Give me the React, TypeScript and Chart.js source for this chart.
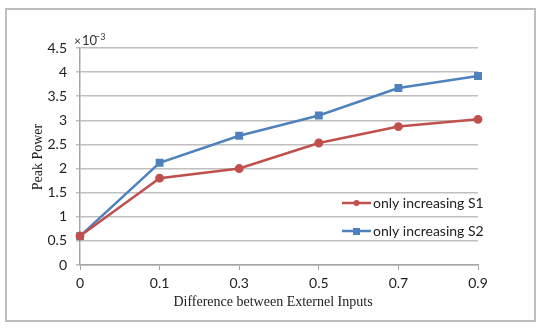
import React, { useEffect, useRef } from "react";
import { Chart, registerables } from "chart.js";

Chart.register(...registerables);

const categories = ["0", "0.1", "0.3", "0.5", "0.7", "0.9"];
const seriesS1 = [0.6, 1.8, 2.0, 2.53, 2.87, 3.02];
const seriesS2 = [0.6, 2.12, 2.68, 3.1, 3.67, 3.92];
const seriesNames = ["only increasing S1", "only increasing S2"];
const colors = ["#C0504D", "#4F81BD"];

const overlayPlugin = {
  id: "overlay",
  beforeDraw(chart: any) {
    const ctx = chart.ctx;
    ctx.save();
    ctx.fillStyle = "#ffffff";
    ctx.fillRect(0, 0, chart.width, chart.height);
    ctx.strokeStyle = "#BEBEBE";
    ctx.lineWidth = 2;
    ctx.strokeRect(6, 9, 529, 312);
    ctx.restore();
  },
  afterDraw(chart: any) {
    const ctx = chart.ctx;
    const area = chart.chartArea;
    ctx.save();
    // exponent label
    ctx.fillStyle = "#333333";
    ctx.textBaseline = "middle";
    ctx.textAlign = "left";
    ctx.font = "12px Lato";
    ctx.fillText("\u00d7", 74, 41);
    ctx.font = "13px Lato";
    ctx.fillText("10", 82, 41);
    ctx.font = "9px Lato";
    ctx.fillText("\u22123", 95, 37);
    // axis titles
    ctx.fillStyle = "#222222";
    ctx.font = "14px 'Liberation Serif'";
    ctx.textAlign = "center";
    ctx.fillText("Difference between Externel Inputs", (area.left + area.right) / 2 - 6, 302);
    ctx.save();
    ctx.translate(38, 157);
    ctx.rotate(-Math.PI / 2);
    ctx.fillText("Peak Power", 0, 0);
    ctx.restore();
    // legend
    const rows = [203, 231];
    rows.forEach((y, i) => {
      ctx.strokeStyle = colors[i];
      ctx.lineWidth = 2.5;
      ctx.beginPath();
      ctx.moveTo(342, y);
      ctx.lineTo(371, y);
      ctx.stroke();
      ctx.fillStyle = colors[i];
      if (i === 0) {
        ctx.beginPath();
        ctx.arc(356.5, y, 3, 0, Math.PI * 2);
        ctx.fill();
      } else {
        ctx.fillRect(353, y - 3, 7, 7);
      }
      ctx.fillStyle = "#222222";
      ctx.textAlign = "left";
      ctx.font = "14px Lato";
      ctx.fillText(seriesNames[i], 373, y);
    });
    ctx.restore();
  },
};

export default function App() {
  const ref = useRef<HTMLCanvasElement | null>(null);
  useEffect(() => {
    if (!ref.current) return;
    const chart = new Chart(ref.current, {
      type: "line",
      data: {
        labels: categories,
        datasets: [
          {
            label: seriesNames[0],
            data: seriesS1,
            borderColor: colors[0],
            backgroundColor: colors[0],
            borderWidth: 2.5,
            pointStyle: "circle",
            pointRadius: 3.2,
            tension: 0,
          },
          {
            label: seriesNames[1],
            data: seriesS2,
            borderColor: colors[1],
            backgroundColor: colors[1],
            borderWidth: 2.5,
            pointStyle: "rect",
            pointRadius: 3.8,
            tension: 0,
          },
        ],
      },
      plugins: [overlayPlugin],
      options: {
        animation: false,
        responsive: false,
        devicePixelRatio: 1,
        layout: { padding: { top: 48, right: 66, left: 0, bottom: 0 } },
        plugins: { legend: { display: false }, tooltip: { enabled: false } },
        scales: {
          x: {
            type: "category",
            offset: false,
            afterFit: (s: any) => {
              s.height = 65;
            },
            grid: {
              display: true,
              drawOnChartArea: false,
              drawTicks: true,
              tickLength: 5,
              color: "#A6A6A6",
              lineWidth: 1,
            },
            border: { display: true, color: "#A6A6A6", width: 1.5 },
            ticks: {
              color: "#222222",
              font: { family: "Lato", size: 14 },
              padding: 5,
              maxRotation: 0,
            },
          },
          y: {
            min: 0,
            max: 4.5,
            afterFit: (s: any) => {
              s.width = 80;
            },
            grid: {
              color: "#BFBFBF",
              lineWidth: 1.5,
              drawTicks: true,
              tickLength: 4,
            },
            border: { display: true, color: "#A6A6A6", width: 1.5 },
            ticks: {
              stepSize: 0.5,
              color: "#222222",
              font: { family: "Lato", size: 14 },
              padding: 9,
              callback: (v: any) => String(Number(v)),
            },
          },
        },
      },
    });
    return () => chart.destroy();
  }, []);
  return (
    <div style={{ position: "fixed", left: 0, top: 0, width: 544, height: 330 }}>
      <canvas ref={ref} width={544} height={330} style={{ width: 544, height: 330 }} />
    </div>
  );
}
